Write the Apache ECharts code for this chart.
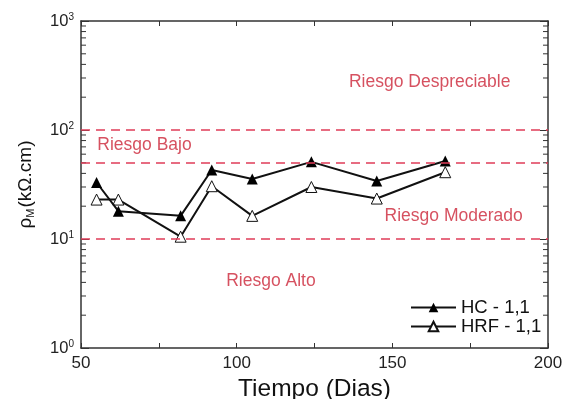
<!DOCTYPE html>
<html>
<head>
<meta charset="utf-8">
<script src="https://cdn.jsdelivr.net/npm/echarts@6/dist/echarts.min.js"></script>
<style>
  html, body { margin: 0; padding: 0; background: #fff; }
  #chart { width: 564px; height: 399px; }
</style>
</head>
<body>
<div id="chart"></div>
<script>
  // datos
  var dias = [55, 62, 82, 92, 105, 124, 145, 167];
  var hcValues = [33, 18, 16.3, 43, 35.5, 51, 34, 52];
  var hrfValues = [23, 23, 10.5, 30.5, 16.3, 30, 23.5, 41];
  var riskLimits = [10, 50, 100];
  var zoneNames = ['Riesgo Despreciable', 'Riesgo Bajo', 'Riesgo Moderado', 'Riesgo Alto'];
  var xTicks = [50, 100, 150, 200];
  var yDecades = [1, 10, 100, 1000];

  // ticks menores del eje log (2..9 de cada decada)
  var minorTickVals = [];
  for (var d = 0; d < yDecades.length - 1; d++) {
    for (var k = 2; k <= 9; k++) minorTickVals.push(yDecades[d] * k);
  }

  var chart = echarts.init(document.getElementById('chart'));
  var axisColor = '#333';
  var redText = '#cc2538';
  var redLine = '#e03c58';
  var fontFam = 'Liberation Sans, Arial, sans-serif';
  var noSplit = { show: false };

  function pair(xs, ys) {
    return xs.map(function (x, i) { return [x, ys[i]]; });
  }

  chart.setOption({
    animation: false,
    textStyle: { fontFamily: fontFam },
    grid: { left: 81, right: 16, top: 21, bottom: 51, outerBoundsMode: 'none', containLabel: false },
    legend: {
      orient: 'vertical',
      left: 405,
      top: 293,
      itemWidth: 45,
      itemHeight: 12,
      itemGap: 0,
      textStyle: { fontSize: 18.5, color: '#111', fontFamily: fontFam },
      data: ['HC - 1,1', 'HRF - 1,1']
    },
    xAxis: [{
      type: 'value',
      min: 50, max: 200, interval: 25,
      name: 'Tiempo (Dias)',
      nameLocation: 'middle',
      nameGap: 17,
      nameTextStyle: { fontSize: 24.5, color: '#111' },
      axisLine: { lineStyle: { color: axisColor, width: 1.5 } },
      axisTick: { inside: true, length: 5, lineStyle: { color: axisColor } },
      axisLabel: {
        fontSize: 17, color: '#222', margin: 7,
        formatter: function (v) { return xTicks.indexOf(v) >= 0 ? String(v) : ''; }
      },
      splitLine: noSplit,
      minorSplitLine: noSplit
    }, {
      type: 'value',
      position: 'top',
      min: 50, max: 200, interval: 25,
      axisLine: { show: true, lineStyle: { color: axisColor, width: 1.5 } },
      axisTick: { show: true, inside: true, length: 5, lineStyle: { color: axisColor } },
      axisLabel: { show: false },
      splitLine: noSplit,
      minorSplitLine: noSplit
    }],
    yAxis: [{
      type: 'log',
      logBase: 10,
      min: 1, max: 1000,
      name: '{r|ρ}{sub|M}{r|(kΩ.cm)}',
      nameLocation: 'middle',
      nameRotate: 90,
      nameGap: 45,
      nameTextStyle: {
        rich: {
          r: { fontSize: 19, color: '#111', fontFamily: fontFam },
          sub: { fontSize: 11, color: '#111', fontFamily: fontFam, verticalAlign: 'bottom', padding: [10, 1, 0, 0] }
        }
      },
      axisLine: { show: true, lineStyle: { color: axisColor, width: 1.5 } },
      axisTick: { inside: true, length: 8, lineStyle: { color: axisColor } },
      axisLabel: {
        margin: 7,
        formatter: function (v) {
          return '{b|10}{s|' + Math.round(Math.log10(v)) + '}';
        },
        rich: {
          b: { fontSize: 16.5, color: '#222', fontFamily: fontFam },
          s: { fontSize: 10, color: '#222', fontFamily: fontFam, verticalAlign: 'top', padding: [0, 0, 8, 0] }
        }
      },
      splitLine: noSplit,
      minorSplitLine: noSplit
    }, {
      type: 'log',
      logBase: 10,
      min: 1, max: 1000,
      position: 'right',
      axisLine: { show: true, lineStyle: { color: axisColor, width: 1.5 } },
      axisTick: { show: true, inside: true, length: 8, lineStyle: { color: axisColor } },
      axisLabel: { show: false },
      splitLine: noSplit,
      minorSplitLine: noSplit
    }],
    series: [{
      name: 'ticks',
      type: 'custom',
      silent: true,
      clip: false,
      data: minorTickVals.map(function (v) { return [50, v]; }),
      renderItem: function (params, api) {
        var v = api.value(1);
        var l = api.coord([50, v]);
        var r = api.coord([200, v]);
        return {
          type: 'group',
          children: [
            { type: 'line', shape: { x1: l[0], y1: l[1], x2: l[0] + 5, y2: l[1] }, style: { stroke: axisColor, lineWidth: 1 } },
            { type: 'line', shape: { x1: r[0], y1: r[1], x2: r[0] - 5, y2: r[1] }, style: { stroke: axisColor, lineWidth: 1 } }
          ]
        };
      },
      z: 1
    }, {
      name: 'limites',
      type: 'line',
      data: [],
      markLine: {
        silent: true,
        symbol: 'none',
        label: { show: false },
        lineStyle: { color: redLine, type: [9, 6], width: 1.6 },
        data: riskLimits.map(function (v) { return { yAxis: v }; })
      }
    }, {
      name: 'zonas',
      type: 'scatter',
      silent: true,
      symbolSize: 0,
      label: {
        show: true, position: 'inside',
        formatter: '{b}',
        fontSize: 17.5, color: redText, fontFamily: fontFam
      },
      data: [
        { name: zoneNames[0], value: [162, 276] },
        { name: zoneNames[1], value: [70.4, 73] },
        { name: zoneNames[2], value: [169.7, 16.3] },
        { name: zoneNames[3], value: [111, 4.06] }
      ]
    }, {
      name: 'HC - 1,1',
      type: 'line',
      data: pair(dias, hcValues),
      symbol: 'triangle',
      symbolSize: 11,
      itemStyle: { color: '#000' },
      lineStyle: { color: '#111', width: 2 },
      z: 4
    }, {
      name: 'HRF - 1,1',
      type: 'line',
      data: pair(dias, hrfValues),
      symbol: 'triangle',
      symbolSize: 11,
      itemStyle: { color: '#fff', borderColor: '#111', borderWidth: 1 },
      lineStyle: { color: '#111', width: 2 },
      z: 3
    }]
  });
</script>
</body>
</html>
